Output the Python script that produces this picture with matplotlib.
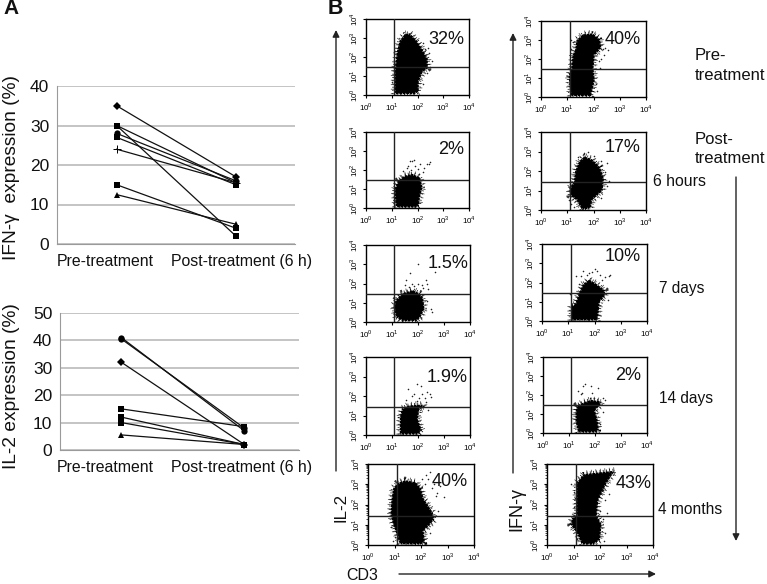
import numpy as np
import matplotlib
matplotlib.use("Agg")
import matplotlib.pyplot as plt
from matplotlib.transforms import ScaledTranslation

plt.rcParams['font.family'] = ['Liberation Sans', 'DejaVu Sans']
plt.rcParams['mathtext.fontset'] = 'custom'
plt.rcParams['mathtext.rm'] = 'Liberation Sans'

W, H = 767, 584

# panel A
categories = ["Pre-treatment", "Post-treatment (6 h)"]
ifn_series = [[35, 17], [30, 2], [30, 15.5], [28, 16], [27, 15], [24, 15.5], [15, 4], [12.5, 5]]
ifn_markers = ["D", "s", "s", "o", "s", "+", "s", "^"]
il2_series = [[41, 7], [40.5, 8], [32, 2], [15, 8.5], [12, 2], [10, 2], [5.5, 2]]
il2_markers = ["o", "o", "D", "s", "s", "s", "^"]

# panel B, cloud outlines and stray events, in decades of fluorescence
l1_x = [1.1, 1.1, 1.2, 1.3, 1.5, 1.7, 1.95, 2.15, 2.4, 2.4, 2.2, 2.05, 2.05, 1.9, 1.3]
l1_y = [0.05, 1.2, 2.3, 2.85, 3.2, 3.25, 2.9, 2.5, 1.9, 1.4, 1.2, 0.7, 0.2, 0.05, 0.05]
l1_sx = [2.3, 2.45, 2.55, 2.5, 2.35, 2.2, 1.0, 1.05, 2.3, 2.4, 2.2]
l1_sy = [2.4, 2.2, 1.8, 1.5, 1.15, 0.6, 0.7, 1.5, 2.05, 2.5, 2.75]
l2_x = [1.15, 1.1, 1.25, 1.5, 1.8, 2.1, 2.2, 2.1, 2.05, 1.95, 1.3]
l2_y = [0.05, 0.95, 1.45, 1.7, 1.8, 1.6, 1.1, 0.6, 0.1, 0.03, 0.03]
l2_sx = [1.45, 1.6, 1.7, 1.65, 1.8, 1.9, 2.0, 2.1, 2.2, 2.35, 2.5, 2.45, 1.85, 2.25, 1.75, 2.05]
l2_sy = [1.95, 2.1, 2.45, 2.2, 2.5, 2.2, 2.05, 2.3, 1.9, 2.3, 2.4, 2.3, 2.55, 2.1, 2.0, 1.8]
l3_x = [1.15, 1.05, 1.15, 1.4, 1.8, 2.05, 2.2, 2.25, 2.1, 1.95, 1.4]
l3_y = [0.25, 0.8, 1.15, 1.5, 1.65, 1.5, 1.25, 0.7, 0.25, 0.05, 0.05]
l3_sx = [1.5, 1.55, 1.7, 1.85, 2.0, 2.0, 2.15, 2.3, 2.35, 2.4, 2.2, 1.75, 2.5, 2.55, 1.65, 2.35, 2.65]
l3_sy = [1.9, 2.2, 2.55, 1.85, 3.0, 2.0, 1.9, 2.2, 2.0, 1.7, 1.75, 2.0, 0.7, 0.5, 1.8, 1.1, 2.6]
l4_x = [1.3, 1.3, 1.38, 1.6, 1.95, 2.2, 2.25, 2.05, 2.0, 2.15, 2.0, 1.3]
l4_y = [0.03, 0.9, 1.35, 1.5, 1.55, 1.55, 1.45, 1.3, 0.8, 0.25, 0.03, 0.03]
l4_sx = [1.55, 1.6, 1.75, 1.95, 2.05, 2.15, 2.25, 2.35, 2.45, 2.5, 1.95, 2.1, 2.3, 2.4, 1.85]
l4_sy = [1.8, 2.35, 2.0, 2.6, 1.9, 2.1, 1.9, 2.2, 2.1, 1.95, 1.75, 2.5, 1.7, 1.3, 2.1]
l5_x = [1.2, 0.95, 0.85, 0.88, 0.95, 1.1, 1.4, 1.8, 2.0, 2.1, 2.3, 2.45, 2.5, 2.3, 2.1, 2.15, 1.95, 1.25]
l5_y = [0.05, 1.0, 1.5, 2.2, 2.8, 3.05, 3.2, 3.1, 2.8, 2.3, 1.9, 1.6, 1.25, 0.95, 0.7, 0.1, 0.03, 0.03]
l5_sx = [2.05, 2.2, 2.35, 2.5, 2.7, 2.85, 2.15, 2.4, 2.55, 2.65, 2.25, 2.6, 1.0, 0.85, 0.95, 2.35]
l5_sy = [3.25, 3.45, 3.6, 3.0, 2.9, 2.35, 3.0, 2.8, 2.4, 1.7, 3.25, 2.55, 0.4, 0.9, 0.2, 0.6]
r1_x = [1.12, 1.05, 1.15, 1.2, 1.3, 1.35, 1.6, 1.95, 2.25, 2.3, 2.05, 2.0, 2.05, 1.95, 1.9, 1.2]
r1_y = [0.05, 1.1, 1.5, 2.2, 2.5, 3.0, 3.3, 3.35, 3.05, 2.6, 2.2, 1.5, 0.9, 0.3, 0.05, 0.05]
r1_sx = [1.15, 1.2, 2.35, 2.45, 2.55, 2.4, 2.2, 2.25, 2.1, 1.15, 1.05, 2.15, 2.3]
r1_sy = [2.55, 2.9, 2.5, 2.6, 2.45, 2.2, 1.9, 1.5, 0.7, 3.0, 0.7, 0.3, 2.0]
r2_x = [1.55, 1.35, 1.1, 1.08, 1.25, 1.3, 1.45, 1.65, 1.95, 2.25, 2.4, 2.35, 2.15, 1.95, 1.9, 1.7]
r2_y = [0.03, 0.5, 0.75, 1.1, 1.45, 2.0, 2.5, 2.75, 2.6, 2.2, 1.6, 1.0, 0.75, 0.5, 0.1, 0.03]
r2_sx = [1.65, 1.8, 2.0, 2.3, 2.5, 2.6, 2.45, 1.15, 1.05, 1.25, 1.4, 2.5, 2.3]
r2_sy = [2.9, 2.95, 2.75, 2.5, 2.4, 1.5, 1.95, 0.3, 0.5, 0.15, 2.7, 1.25, 0.6]
r3_x = [1.1, 1.1, 1.25, 1.4, 1.55, 1.8, 2.05, 2.4, 2.4, 2.2, 2.15, 2.1, 1.1]
r3_y = [0.03, 0.8, 0.85, 1.4, 1.9, 2.15, 1.95, 1.6, 1.3, 1.0, 0.3, 0.03, 0.03]
r3_sx = [1.3, 1.5, 1.55, 1.7, 1.8, 2.0, 2.1, 2.2, 2.4, 2.55, 2.6, 1.4, 1.9, 2.3, 2.5, 1.05]
r3_sy = [2.35, 2.35, 2.6, 2.4, 2.5, 2.7, 2.6, 2.4, 2.3, 2.35, 2.4, 1.9, 2.55, 2.15, 1.1, 1.4]
r4_x = [1.35, 1.25, 1.25, 1.3, 1.55, 1.85, 2.25, 2.2, 2.0, 2.1, 2.15, 2.05, 1.4]
r4_y = [0.03, 0.6, 1.1, 1.45, 1.6, 1.75, 1.65, 1.45, 1.2, 0.7, 0.15, 0.03, 0.03]
r4_sx = [1.35, 1.45, 1.55, 1.6, 1.85, 1.9, 2.1, 2.3, 2.4, 2.3, 1.95, 2.2, 1.5]
r4_sy = [2.2, 2.05, 2.45, 2.6, 2.45, 2.1, 2.35, 1.85, 1.75, 1.1, 1.85, 0.5, 2.1]
r5_x = [1.31, 1.13, 0.9, 0.94, 1.1, 1.1, 1.38, 2.56, 2.25, 1.94, 1.88, 2.06, 2.0, 1.75]
r5_y = [0.03, 0.58, 1.0, 1.32, 1.48, 3.05, 3.5, 3.67, 3.05, 2.22, 1.48, 1.0, 0.25, 0.03]
r5_sx = [0.9, 1.0, 1.05, 1.0, 2.1, 2.25, 2.1, 2.2, 2.35, 2.0, 1.15, 2.15, 2.2, 0.85]
r5_sy = [3.0, 2.6, 2.3, 1.9, 2.7, 1.6, 1.3, 0.6, 2.5, 1.7, 0.3, 0.2, 2.2, 1.1]

percent_labels = ["32%", "2%", "1.5%", "1.9%", "40%", "40%", "17%", "10%", "2%", "43%"]
il2_clouds = [(l1_x, l1_y, l1_sx, l1_sy), (l2_x, l2_y, l2_sx, l2_sy), (l3_x, l3_y, l3_sx, l3_sy),
              (l4_x, l4_y, l4_sx, l4_sy), (l5_x, l5_y, l5_sx, l5_sy)]
ifn_clouds = [(r1_x, r1_y, r1_sx, r1_sy), (r2_x, r2_y, r2_sx, r2_sy), (r3_x, r3_y, r3_sx, r3_sy),
              (r4_x, r4_y, r4_sx, r4_sy), (r5_x, r5_y, r5_sx, r5_sy)]

# frames in pixels: left, right, top, bottom
frames = [(366, 469, 19, 95), (366, 469, 132, 208), (366, 470, 245, 322), (366, 470, 357, 435), (368, 474, 464, 545),
          (541, 646, 21, 97), (541, 646, 132, 210), (542, 647, 244, 321), (543, 647, 357, 433), (547, 653, 464, 545)]
label_pos = [(464, 39), (464, 149), (468, 263), (468, 377), (468, 482),
             (641, 39), (641, 148), (641, 257), (641, 375), (652, 483)]

fig = plt.figure(figsize=(W / 100, H / 100), dpi=100)


def px_axes(left, right, top, bottom):
    return fig.add_axes([left / W, 1 - bottom / H, (right - left) / W, (bottom - top) / H])


def ftext(x, y, s, **kw):
    kw.setdefault('ha', 'left')
    kw.setdefault('va', 'center')
    kw.setdefault('color', '#111111')
    fig.text(x / W, 1 - y / H, s, **kw)


def arrow(x0, y0, x1, y1):
    fig.add_artist(matplotlib.patches.FancyArrowPatch(
        (x0 / W, 1 - y0 / H), (x1 / W, 1 - y1 / H), transform=fig.transFigure,
        arrowstyle='-|>', mutation_scale=10, lw=1, color='#222222', shrinkA=0, shrinkB=0))


def line_chart(box, series, markers, ymax, xlim_right, ylabel, label_y, label_shift):
    ax = px_axes(*box)
    for vals, m in zip(series, markers):
        size = 4.5 if m != '+' else 5.5
        ax.plot([0, 1], vals, color='#111111', lw=0.9, marker=m, ms=size, mew=0.7 if m == '+' else 0,
                mfc='black', mec='black', clip_on=False)
    ax.set_xlim(-0.5, xlim_right)
    ax.set_ylim(0, ymax)
    ax.set_yticks(np.arange(0, ymax + 1, 10))
    ax.set_xticks([0, 1], categories)
    ax.grid(axis='y', color='#b4b4b4', lw=1.1)
    ax.set_axisbelow(True)
    for s in ['top', 'right']:
        ax.spines[s].set_visible(False)
    ax.spines['left'].set_color('#9a9a9a')
    ax.spines['bottom'].set_color('#9a9a9a')
    ax.tick_params(axis='x', length=0, labelsize=11.4, pad=7, colors='#111111')
    ax.tick_params(axis='y', length=0, labelsize=12.5, pad=5.5, colors='#111111')
    # the category labels do not sit centred under their points in the original
    for lab, shift in zip(ax.get_xticklabels(), label_shift):
        lab.set_transform(lab.get_transform() + ScaledTranslation(shift / 100, 0, fig.dpi_scale_trans))
    ftext(12, label_y, ylabel, rotation=90, ha='center', fontsize=13.8)


line_chart((57, 295, 86, 244), ifn_series, ifn_markers, 40, 1.495, "IFN-\u03b3  expression (%)", 168, (-11, 6))
line_chart((60, 299, 313, 450), il2_series, il2_markers, 50, 1.445, "IL-2 expression (%)", 386, (-16, -3))


def facs_panel(box, cloud, pct, pos):
    ax = px_axes(*box)
    cx, cy, sx, sy = cloud
    xs = 10.0 ** np.array(cx)
    ys = 10.0 ** np.array(cy)
    ax.fill(xs, ys, color='black', lw=0, zorder=2)
    # dotted rims give the outline its speckled look
    ax.fill(xs, ys, fill=False, ec='#333333', lw=5, ls=(0, (0.1, 0.55)), zorder=1)
    ax.fill(xs, ys, fill=False, ec='black', lw=3, ls=(0, (0.18, 0.6)), zorder=1)
    ax.fill(xs, ys, fill=False, ec='white', lw=1.6, ls=(0, (0.25, 1.3)), zorder=2)
    ax.scatter(10.0 ** np.array(sx), 10.0 ** np.array(sy), s=1.3, color='#222222', lw=0, zorder=2)
    ax.set_xscale('log')
    ax.set_yscale('log')
    ax.set_xlim(1, 1e4)
    ax.set_ylim(1, 1e4)
    ax.axvline(10 ** 1.09, color='#222222', lw=1, zorder=3)
    ax.axhline(10 ** 1.45, color='#222222', lw=1, zorder=3)
    ax.set_xticks([1, 10, 100, 1000, 10000], ['$10^{0}$', '$10^{1}$', '$10^{2}$', '$10^{3}$', '$10^{4}$'])
    ax.set_yticks([1, 10, 100, 1000, 10000], ['$10^{0}$', '$10^{1}$', '$10^{2}$', '$10^{3}$', '$10^{4}$'])
    ax.tick_params(which='major', length=2.5, width=0.8, labelsize=5.8, pad=1.5)
    ax.tick_params(which='minor', length=1.3, width=0.5, labelleft=False, labelbottom=False)
    ax.tick_params(axis='y', labelrotation=90)
    for lab in ax.get_yticklabels():
        lab.set_va('center')
    for s in ax.spines.values():
        s.set_linewidth(1)
    ftext(pos[0], pos[1], pct, ha='right', fontsize=13)


for box, cloud, pct, pos in zip(frames, il2_clouds + ifn_clouds, percent_labels, label_pos):
    facs_panel(box, cloud, pct, pos)

ftext(3, 9, "A", fontsize=15, fontweight='bold')
ftext(328, 9, "B", fontsize=15.5, fontweight='bold')
ftext(695, 56, "Pre-", fontsize=12)
ftext(695, 75, "treatment", fontsize=12)
ftext(695, 139, "Post-", fontsize=12)
ftext(695, 158, "treatment", fontsize=12)
ftext(653, 182, "6 hours", fontsize=11.4)
ftext(659, 289, "7 days", fontsize=11.2)
ftext(659, 398, "14 days", fontsize=11.2)
ftext(658, 509, "4 months", fontsize=11.2)
ftext(341, 507, "IL-2", rotation=90, ha='center', fontsize=12.2)
ftext(517, 509, "IFN-\u03b3", rotation=90, ha='center', fontsize=13)
ftext(346, 575, "CD3", fontsize=11.5)

arrow(336, 471, 336, 30)
arrow(513, 473, 513, 33)
arrow(399, 574, 656, 574)
arrow(736, 177, 736, 541)

fig.savefig("out.png", dpi=100)
